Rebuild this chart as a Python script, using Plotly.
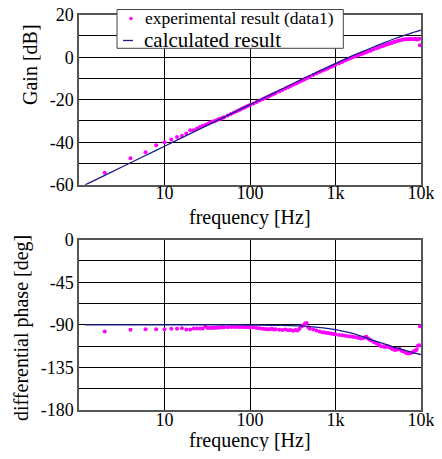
import plotly.graph_objects as go

# ---------------- data ----------------
calc_freq = [1.18, 2, 5, 10, 20, 50, 100, 200, 500, 1000, 1500, 2000, 3000, 4000,
             5000, 6000, 7000, 8000, 9000, 10000]
calc_gain = [-60.1, -55.6, -47.8, -41.9, -36.0, -28.2, -22.3, -16.4, -8.6, -3.0, 0.3,
             2.4, 5.3, 7.3, 8.8, 9.9, 10.8, 11.6, 12.2, 12.8]
calc_phase = [-90, -90, -90, -90, -90, -90, -90.2, -90.5, -91.8, -95.0, -98.5, -102.0,
              -107.5, -111.0, -114.0, -116.0, -117.8, -119.3, -120.5, -121.4]

exp_freq = [2, 4, 6, 8, 10, 12, 14, 16, 18, 20, 22, 24, 26, 28, 30, 32, 34, 36, 38, 40,
            42, 44, 46, 48, 50, 55, 60, 65, 70, 75, 80, 85, 90, 95, 100, 110, 120, 130,
            140, 150, 160, 170, 180, 190, 200, 220, 240, 260, 280, 300, 320, 340, 360,
            380, 400, 420, 440, 460, 480, 500, 550, 600, 650, 700, 750, 800, 850, 900,
            950, 1000, 1100, 1200, 1300, 1400, 1500, 1600, 1700, 1800, 1900, 2000, 2100,
            2200, 2300, 2400, 2500, 2600, 2800, 3000, 3200, 3400, 3600, 3800, 4000, 4200,
            4400, 4600, 4800, 5000, 5300, 5600, 5900, 6200, 6500, 6800, 7100, 7400, 7700,
            8000, 8300, 8600, 8900, 9200, 9500, 9700]
exp_gain = [-54.4, -47.5, -44.7, -41.4, -40.0, -38.7, -37.5, -37.0, -35.9, -34.4, -34.4,
            -33.6, -32.9, -32.3, -31.9, -31.4, -30.9, -30.4, -30.1, -29.8, -29.4, -29.1,
            -28.8, -28.5, -28.2, -27.4, -26.7, -26.0, -25.4, -24.8, -24.3, -23.8, -23.3,
            -22.9, -22.5, -21.8, -21.1, -20.4, -19.8, -19.2, -18.7, -18.2, -17.7, -17.3,
            -16.9, -16.1, -15.4, -14.7, -14.1, -13.5, -13.0, -12.5, -12.0, -11.5, -11.1,
            -10.7, -10.3, -9.9, -9.6, -9.2, -8.4, -7.7, -7.0, -6.4, -5.9, -5.4, -4.9,
            -4.4, -4.0, -3.6, -2.9, -2.2, -1.6, -1.0, -0.5, 0.0, 0.4, 0.8, 1.2, 1.5, 1.8,
            2.1, 2.4, 2.7, 3.0, 3.2, 3.7, 4.2, 4.6, 5.0, 5.3, 5.7, 6.0, 6.3, 6.6, 6.8,
            7.1, 7.3, 7.6, 7.9, 8.1, 8.3, 8.4, 8.5, 8.6, 8.5, 8.7, 8.6, 8.4, 8.6, 8.3,
            8.5, 8.7, 5.6]
exp_phase = [-97.0, -95.3, -94.6, -94.6, -94.6, -94.2, -94.2, -93.5, -94.9, -94.9, -93.9,
             -93.9, -93.9, -93.9, -91.8, -93.3, -93.3, -93.3, -93.0, -93.0, -92.8, -92.8,
             -92.6, -92.6, -92.5, -92.5, -92.4, -92.3, -92.3, -92.2, -92.2, -92.3, -92.4,
             -92.5, -92.5, -92.8, -93.2, -93.6, -94.0, -94.4, -94.6, -94.6, -94.0, -94.8,
             -94.6, -95.2, -95.5, -95.0, -95.8, -95.5, -96.2, -95.5, -96.0, -94.0, -91.5,
             -90.6, -88.5, -88.0, -92.5, -94.0, -95.0, -96.0, -97.0, -97.7, -98.2, -98.5,
             -99.0, -99.4, -99.7, -100.0, -100.6, -101.0, -101.5, -102.0, -102.3, -102.6,
             -103.0, -103.4, -104.0, -104.4, -104.0, -103.0, -102.5, -104.5, -105.5,
             -106.5, -108.0, -109.5, -111.0, -112.5, -113.0, -113.4, -113.0, -113.5,
             -114.5, -115.5, -116.0, -116.5, -116.0, -115.5, -117.5, -118.0, -119.0,
             -120.0, -120.3, -120.0, -119.5, -119.0, -118.0, -117.5, -116.0, -112.0,
             -111.5, -91.4]

x_tickvals = [10, 100, 1000, 10000]
x_ticktext = ["10", "100", "1k", "10k"]
gain_tickvals = [-60, -50, -40, -30, -20, -10, 0, 10, 20]
gain_ticktext = ["-60", "", "-40", "", "-20", "", "0", "", "20"]
phase_tickvals = [-180, -157.5, -135, -112.5, -90, -67.5, -45, -22.5, 0]
phase_ticktext = ["-180", "", "-135", "", "-90", "", "-45", "", "0"]

exp_label = "experimental result (data1)"
calc_label = "calculated result"

# ---------------- figure ----------------
FONT = "Liberation Serif, Times New Roman, Times, serif"
MAG = "#ff00ff"
BLUE = "#1c1c8c"
OFF = 8                      # page body margin
W, H = 442 - OFF, 459 - 2 * OFF


def xp(px):
    return (px - OFF) / W


def yp(py):
    return 1 - (py - OFF) / H


fig = go.Figure()
fig.add_trace(go.Scatter(x=exp_freq, y=exp_gain, mode="markers",
                         marker=dict(color=MAG, size=4), name=exp_label,
                         xaxis="x", yaxis="y"))
fig.add_trace(go.Scatter(x=calc_freq, y=calc_gain, mode="lines",
                         line=dict(color=BLUE, width=1.3, shape="spline"),
                         name=calc_label, xaxis="x", yaxis="y"))
fig.add_trace(go.Scatter(x=exp_freq, y=exp_phase, mode="markers",
                         marker=dict(color=MAG, size=4), name=exp_label,
                         xaxis="x2", yaxis="y2"))
fig.add_trace(go.Scatter(x=calc_freq, y=calc_phase, mode="lines",
                         line=dict(color=BLUE, width=1.3, shape="spline"),
                         name=calc_label, xaxis="x2", yaxis="y2"))

xdom = [xp(79), xp(421)]
top_dom = [yp(184.7), yp(14.7)]
bot_dom = [yp(410), yp(239.7)]

axis_common = dict(showline=True, mirror=True, linecolor="#555555", linewidth=1.5,
                   showgrid=True, gridcolor="#000000", gridwidth=1, zeroline=False,
                   automargin=False, ticklabeloverflow="allow",
                   ticks="", tickfont=dict(family=FONT, size=18, color="black"))

fig.update_layout(
    width=W, height=H,
    margin=dict(l=0, r=0, t=0, b=0, pad=0, autoexpand=False),
    paper_bgcolor="white", plot_bgcolor="white",
    font=dict(family=FONT, color="black"),
    showlegend=False,
    xaxis=dict(type="log", range=[0, 4], domain=xdom, anchor="y",
               tickvals=x_tickvals, ticktext=x_ticktext, ticklabelstandoff=-9,
               **axis_common),
    yaxis=dict(range=[-60, 20], domain=top_dom, anchor="x",
               tickvals=gain_tickvals, ticktext=gain_ticktext, **axis_common),
    xaxis2=dict(type="log", range=[0, 4], domain=xdom, anchor="y2",
                tickvals=x_tickvals, ticktext=x_ticktext, ticklabelstandoff=-7,
                **axis_common),
    yaxis2=dict(range=[-180, 0], domain=bot_dom, anchor="x2",
                tickvals=phase_tickvals, ticktext=phase_ticktext, **axis_common),
)

# legend box (drawn as shapes + text so its size matches the original)
fig.add_shape(type="rect", xref="paper", yref="paper",
              x0=xp(117), x1=xp(343.3), y0=yp(48.3), y1=yp(9.5),
              line=dict(color="#444444", width=1), fillcolor="white", layer="above")
fig.add_shape(type="circle", xref="paper", yref="paper",
              x0=xp(129.5), x1=xp(132.5), y0=yp(20), y1=yp(17),
              line=dict(color=MAG, width=0.5), fillcolor=MAG, layer="above")
fig.add_shape(type="line", xref="paper", yref="paper",
              x0=xp(123), x1=xp(133), y0=yp(40.5), y1=yp(40.5),
              line=dict(color=BLUE, width=1.3), layer="above")
fig.add_annotation(text=exp_label, x=xp(143), y=yp(18.5), xanchor="left",
                   yanchor="middle", showarrow=False, xref="paper", yref="paper",
                   font=dict(family=FONT, size=17.5, color="black"))
fig.add_annotation(text=calc_label, x=xp(141.5), y=yp(40), xanchor="left",
                   yanchor="middle", showarrow=False, xref="paper", yref="paper",
                   font=dict(family=FONT, size=21, color="black"))

ann = dict(showarrow=False, xref="paper", yref="paper",
           font=dict(family=FONT, size=20, color="black"))
fig.add_annotation(text="Gain [dB]", x=xp(30), y=yp(65), textangle=-90,
                   xanchor="center", yanchor="middle", **ann)
fig.add_annotation(text="differential phase [deg]", x=xp(21), y=yp(328),
                   textangle=-90, xanchor="center", yanchor="middle", **ann)
fig.add_annotation(text="frequency [Hz]", x=xp(250), y=yp(217),
                   xanchor="center", yanchor="middle", **ann)
fig.add_annotation(text="frequency [Hz]", x=xp(250), y=yp(440),
                   xanchor="center", yanchor="middle", **ann)

fig.write_html("out.html")
